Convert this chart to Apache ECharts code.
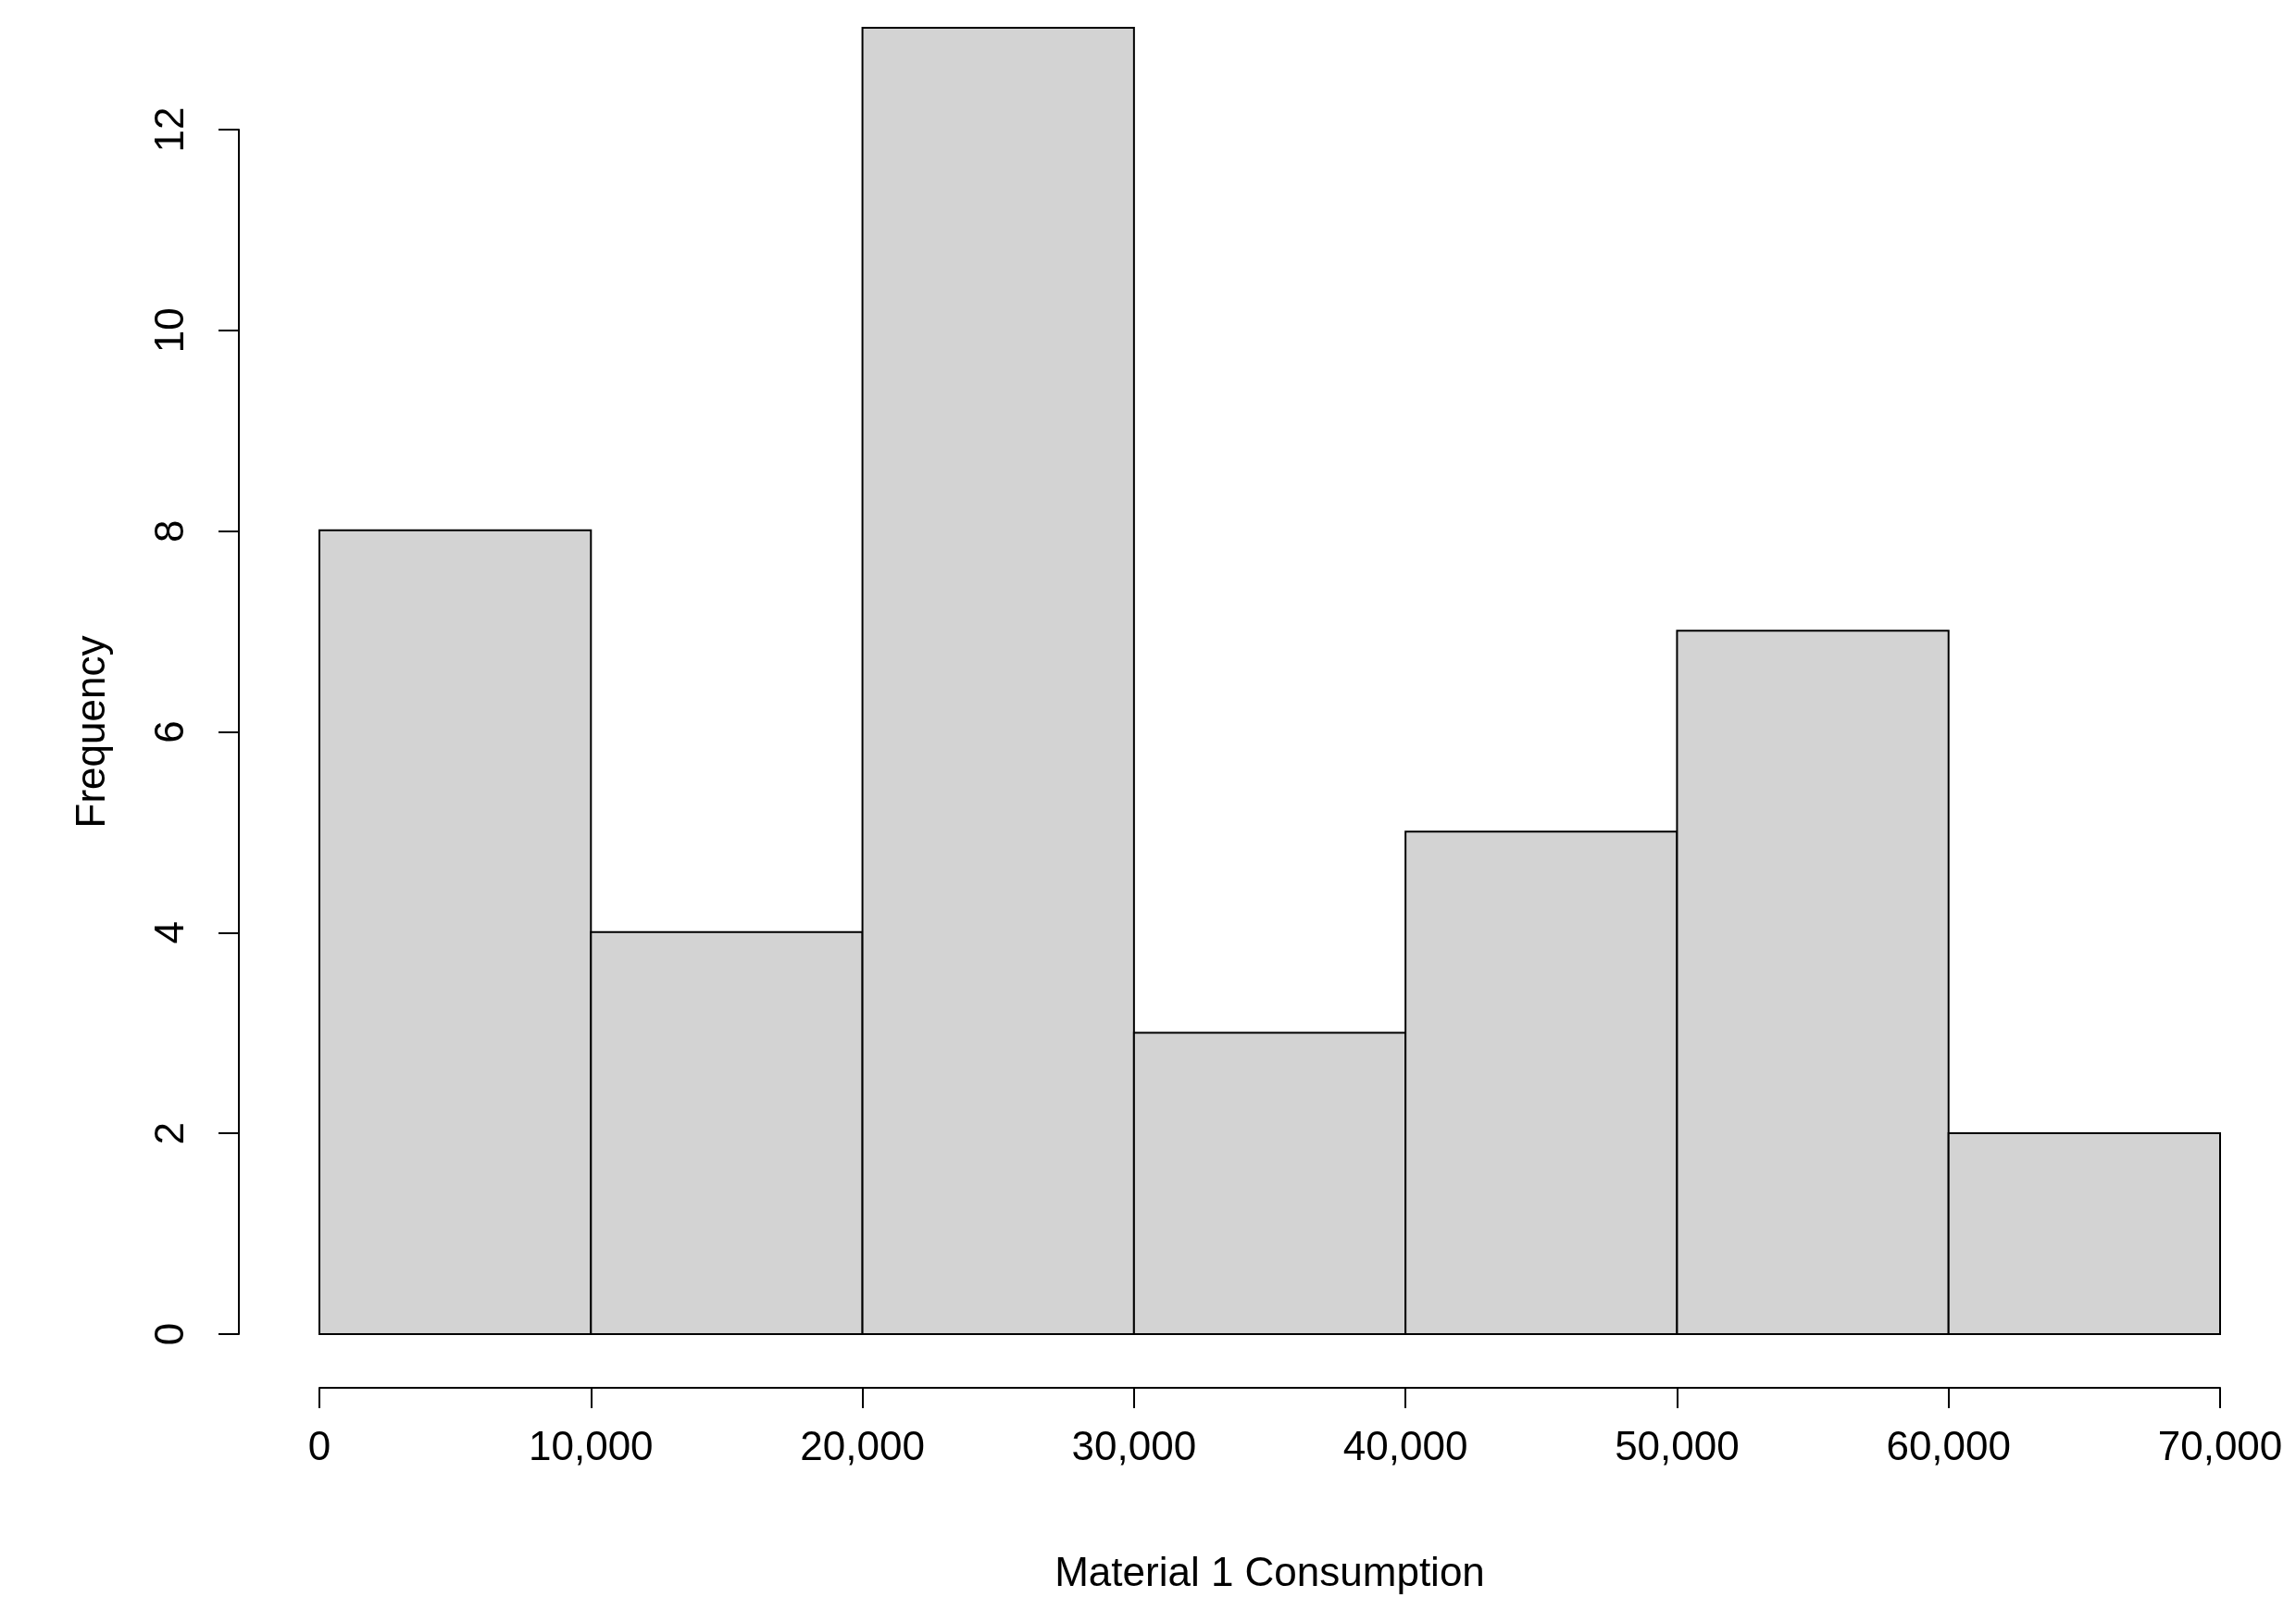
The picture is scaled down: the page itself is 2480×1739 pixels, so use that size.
<!DOCTYPE html>
<html><head><meta charset="utf-8">
<script src="https://cdn.jsdelivr.net/npm/echarts@6/dist/echarts.min.js"></script>
<style>html,body{margin:0;padding:0;background:#fff}#c{width:2480px;height:1739px}</style>
</head><body><div id="c"></div>
<script>
const binStarts = [0,10000,20000,30000,40000,50000,60000];
const binEnds = [10000,20000,30000,40000,50000,60000,70000];
const counts = [8,4,13,3,5,7,2];
const xTitle = 'Material 1 Consumption';
const yTitle = 'Frequency';
const data = binStarts.map((s,i)=>[s,binEnds[i],counts[i]]);
const font = 'Liberation Sans, Arial, sans-serif';
const chart = echarts.init(document.getElementById('c'));
chart.setOption({
  animation:false,
  grid:[{left:345,right:82,top:30,bottom:298},{left:345,right:82,top:140,bottom:298}],
  xAxis:[{gridIndex:0,type:'value',min:0,max:70000,interval:10000,position:'bottom',offset:58,
    splitLine:{show:false},
    axisLine:{onZero:false,lineStyle:{color:'#000',width:2}},
    axisTick:{length:22,lineStyle:{color:'#000',width:2}},
    axisLabel:{color:'#000',fontSize:44,fontFamily:font,margin:44,
      formatter:v=>v.toLocaleString('en-US')},
    name:xTitle,nameLocation:'middle',nameGap:180,nameTextStyle:{color:'#000',fontSize:44,fontFamily:font}},
   {gridIndex:1,type:'value',min:0,max:70000,show:false}],
  yAxis:[{gridIndex:0,type:'value',min:0,max:13,show:false},
   {gridIndex:1,type:'value',min:0,max:12,interval:2,position:'left',offset:87,
    splitLine:{show:false},
    axisLine:{show:true,onZero:false,lineStyle:{color:'#000',width:2}},
    axisTick:{show:true,length:22,lineStyle:{color:'#000',width:2}},
    axisLabel:{color:'#000',fontSize:44,fontFamily:font,rotate:90,margin:50},
    name:yTitle,nameLocation:'middle',nameGap:135,nameRotate:90,
    nameTextStyle:{color:'#000',fontSize:44,fontFamily:font}}],
  series:[{type:'custom',xAxisIndex:0,yAxisIndex:0,data:data,
    renderItem:(params,api)=>{
      const p0=api.coord([api.value(0),0]);
      const p1=api.coord([api.value(1),api.value(2)]);
      return {type:'rect',shape:{x:p0[0],y:p1[1],width:p1[0]-p0[0],height:p0[1]-p1[1]},
        style:{fill:'#d3d3d3',stroke:'#000',lineWidth:2}};
    }}]
});
</script></body></html>
